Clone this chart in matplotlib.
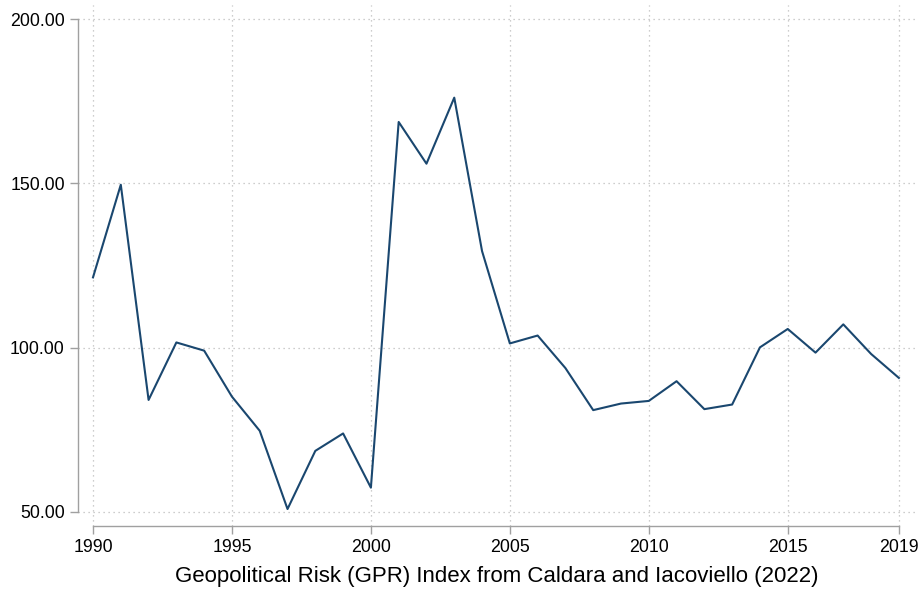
import matplotlib
matplotlib.use("Agg")
from matplotlib import pyplot as plt

# GPR index, annual values
years = list(range(1990, 2020))
gpr = [121.4, 149.6, 84.1, 101.6, 99.1, 85.1, 74.7, 50.9, 68.6, 73.9,
       57.4, 168.7, 156.0, 176.1, 129.4, 101.3, 103.7, 93.8, 81.0, 83.0,
       83.8, 89.8, 81.3, 82.7, 100.1, 105.7, 98.5, 107.1, 98.1, 90.8]

xticks = [1990, 1995, 2000, 2005, 2010, 2015, 2019]
yticks = [50, 100, 150, 200]
xlabel = "Geopolitical Risk (GPR) Index from Caldara and Iacoviello (2022)"

plt.rcParams['font.family'] = ['Liberation Sans', 'DejaVu Sans']

fig = plt.figure(figsize=(9.22, 5.95), dpi=100)
ax = fig.add_axes([0.0846, 0.116, 0.9078, 0.8756])

ax.plot(years, gpr, color='#1a476f', lw=1.5)

ax.set_xlim(1989.46, 2019.58)
ax.set_ylim(45.74, 204.3)
ax.set_xticks(xticks)
ax.set_yticks(yticks)
ax.set_yticklabels(['%.2f' % v for v in yticks])

ax.grid(True, linestyle=(0, (1, 3)), color='#bdbdbd', lw=0.9)
ax.set_axisbelow(True)

for s in ['top', 'right']:
    ax.spines[s].set_visible(False)
ax.spines['left'].set_bounds(50, 200)
ax.spines['bottom'].set_bounds(1990, 2019)
for s in ['left', 'bottom']:
    ax.spines[s].set_color('#a0a0a0')
    ax.spines[s].set_linewidth(1.0)

ax.tick_params(axis='both', colors='#a0a0a0', labelcolor='black',
               length=6, width=1.0, labelsize=12.8)
ax.set_xlabel(xlabel, fontsize=16, labelpad=7)

fig.savefig('out.png', dpi=100)
